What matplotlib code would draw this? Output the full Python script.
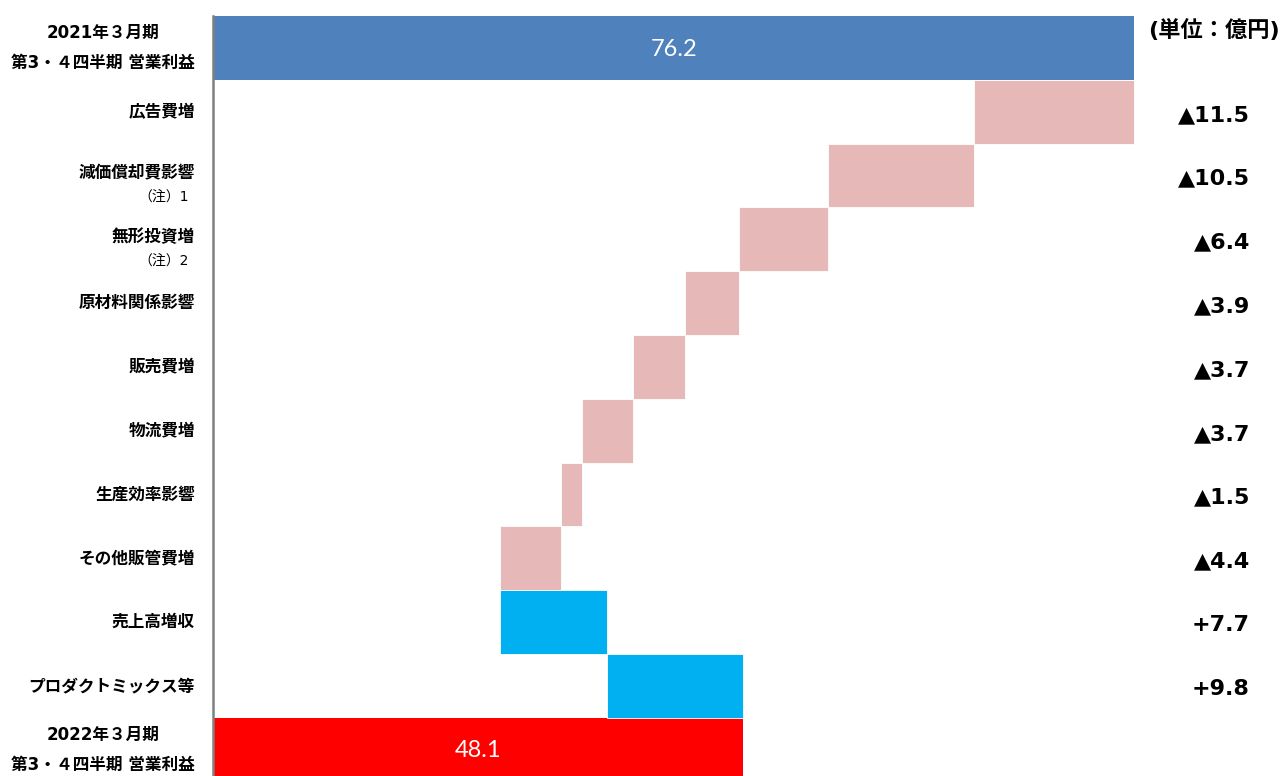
import matplotlib
matplotlib.use("Agg")
import matplotlib.pyplot as plt
from matplotlib import transforms

plt.rcParams['font.family'] = ['Noto Sans CJK JP', 'DejaVu Sans']
LATIN_FIRST = ['DejaVu Sans', 'Noto Sans CJK JP']

# Waterfall data (unit: 100 million yen)
categories = [
    "2021年３月期\n第3・４四半期 営業利益",
    "広告費増",
    "減価償却費影響",
    "無形投資増",
    "原材料関係影響",
    "販売費増",
    "物流費増",
    "生産効率影響",
    "その他販管費増",
    "売上高増収",
    "プロダクトミックス等",
    "2022年３月期\n第3・４四半期 営業利益",
]
start_value = 76.2
deltas = [-11.5, -10.5, -6.4, -3.9, -3.7, -3.7, -1.5, -4.4, 7.7, 9.8]
end_value = 48.1
notes = {2: "（注）1", 3: "（注）2"}
unit_label = "(単位：億円)"

color_start = "#4F81BD"
color_end = "#FF0000"
color_down = "#E6B9B8"
color_up = "#00B0F0"

W, H = 1286, 776
fig = plt.figure(figsize=(W / 100, H / 100), dpi=100)
ax = fig.add_axes([213 / W, 1 - 781.6 / H, (1187 - 213) / W, 765.6 / H])

n = len(categories)

# totals
ax.barh(0, start_value, left=0, height=1.0, color=color_start, edgecolor='none')
ax.barh(n - 1, end_value, left=0, height=1.0, color=color_end, edgecolor='none')

# steps
running = start_value
for i, d in enumerate(deltas, start=1):
    lo = min(running, running + d)
    ax.barh(i, abs(d), left=lo, height=1.0,
            color=color_down if d < 0 else color_up,
            edgecolor='white', linewidth=0.6)
    running += d

ax.set_xlim(10, 80)
ax.set_ylim(n - 0.5, -0.5)
ax.set_xticks([])
ax.set_yticks([])
for s in ['top', 'right', 'bottom']:
    ax.spines[s].set_visible(False)
ax.spines['left'].set_color('#808080')
ax.spines['left'].set_linewidth(1.8)

# values inside total bars
for y, v in [(0, start_value), (n - 1, end_value)]:
    ax.text((10 + v) / 2, y + 0.02, f"{v:.1f}", color='white',
            fontsize=17, ha='center', va='center', family=['Lato', 'DejaVu Sans'])

# category labels on the left
lab_tr = transforms.blended_transform_factory(fig.transFigure, ax.transData)
for i, c in enumerate(categories):
    y = i
    if i in notes:
        y = i - 0.04
        ax.text(189 / W, i + 0.33, notes[i], transform=lab_tr, ha='right',
                va='center', fontsize=10, family=LATIN_FIRST)
    ax.text(195 / W, y, c, transform=lab_tr, ha='right', va='center',
            fontsize=12, fontweight='bold', multialignment='center',
            linespacing=1.85, family=LATIN_FIRST)

# change labels on the right
for i, d in enumerate(deltas, start=1):
    txt = f"+{d:.1f}" if d > 0 else f"▲{abs(d):.1f}"
    ax.text(1250 / W, i + 0.05, txt, transform=lab_tr, ha='right',
            va='center', fontsize=16, fontweight='bold', family=LATIN_FIRST)

fig.text(1280 / W, 1 - 30 / H, unit_label, ha='right', va='center',
         fontsize=16, fontweight='bold', family=LATIN_FIRST)

fig.savefig("out.png", dpi=100)
